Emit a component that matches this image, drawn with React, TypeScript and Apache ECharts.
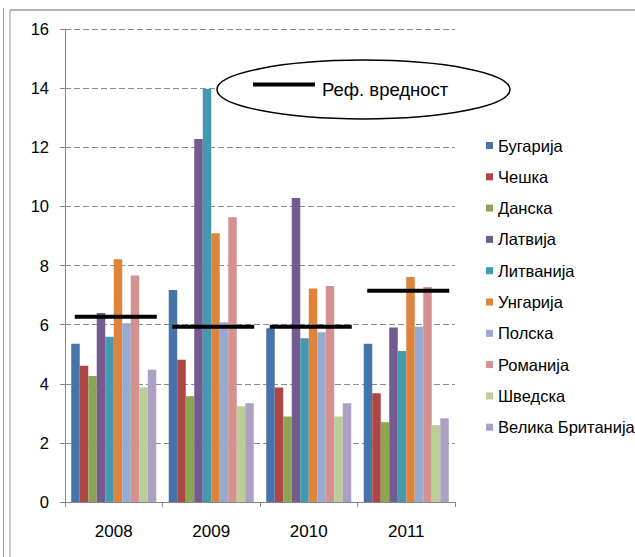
import React, { useEffect, useRef } from "react";
import * as echarts from "echarts";

const years = ["2008", "2009", "2010", "2011"];
const countries = [
  "Бугарија",
  "Чешка",
  "Данска",
  "Латвија",
  "Литванија",
  "Унгарија",
  "Полска",
  "Романија",
  "Шведска",
  "Велика Британија",
];
const colors = [
  "#4674AA",
  "#AD4745",
  "#8BA553",
  "#735A8F",
  "#4399B0",
  "#DE843D",
  "#97AAD2",
  "#D59190",
  "#BCCE98",
  "#ACA0C4",
];
// values per country, per year 2008..2011
const bugarija = [5.35, 7.17, 5.88, 5.35];
const ceska = [4.61, 4.81, 3.87, 3.68];
const danska = [4.26, 3.58, 2.89, 2.7];
const latvija = [6.39, 12.28, 10.28, 5.9];
const litvanija = [5.59, 13.97, 5.54, 5.11];
const ungarija = [8.21, 9.09, 7.22, 7.61];
const polska = [6.05, 6.08, 5.74, 5.93];
const romanija = [7.66, 9.63, 7.31, 7.27];
const svedska = [3.87, 3.24, 2.89, 2.6];
const britanija = [4.47, 3.34, 3.34, 2.83];
const seriesValues = [
  bugarija,
  ceska,
  danska,
  latvija,
  litvanija,
  ungarija,
  polska,
  romanija,
  svedska,
  britanija,
];
const refName = "Реф. вредност";
const refValues = [6.27, 5.93, 5.93, 7.15];
const yTicks = [0, 2, 4, 6, 8, 10, 12, 14, 16];

const FONT = "'Liberation Sans', Arial, sans-serif";

export default function App() {
  const ref = useRef<HTMLDivElement>(null);
  useEffect(() => {
    if (!ref.current) return;
    const chart = echarts.init(ref.current, null, { renderer: "svg" });
    const barSeries = countries.map((name, i) => ({
      name,
      type: "bar",
      data: seriesValues[i],
      barGap: "0%",
      barCategoryGap: "12.8%",
      itemStyle: { color: colors[i] },
    }));
    const refSeries = {
      name: refName,
      type: "custom",
      data: refValues.map((v, i) => [i, v]),
      z: 10,
      renderItem: (params: any, api: any) => {
        const p = api.coord([api.value(0), api.value(1)]);
        return {
          type: "line",
          shape: { x1: p[0] - 39, y1: p[1], x2: p[0] + 43, y2: p[1] },
          style: { stroke: "#000", lineWidth: 4 },
        };
      },
    };
    chart.setOption({
      animation: false,
      color: colors,
      textStyle: { fontFamily: FONT },
      grid: { left: 65, right: 180, top: 29, bottom: 55, containLabel: false },
      legend: {
        orient: "vertical",
        left: 481,
        top: 132,
        data: countries,
        icon: "rect",
        itemWidth: 7,
        itemHeight: 7,
        itemGap: 14.3,
        textStyle: { fontSize: 16.5, color: "#000", fontFamily: FONT, lineHeight: 16 },
      },
      xAxis: {
        type: "category",
        data: years,
        axisLine: { lineStyle: { color: "#868686", width: 1 } },
        axisTick: { show: true, length: 5, lineStyle: { color: "#868686" } },
        axisLabel: { color: "#000", fontSize: 17, margin: 21, fontFamily: FONT },
        splitLine: { show: false },
      },
      yAxis: {
        type: "value",
        min: yTicks[0],
        max: yTicks[yTicks.length - 1],
        interval: 2,
        axisLine: { show: true, lineStyle: { color: "#868686", width: 1 } },
        axisTick: { show: true, length: 5, lineStyle: { color: "#868686" } },
        axisLabel: { color: "#000", fontSize: 16.5, margin: 16, fontFamily: FONT },
        splitLine: {
          show: true,
          lineStyle: { color: "#8c8c8c", type: [6, 3], width: 1 },
        },
      },
      series: [...barSeries, refSeries],
      graphic: [
        {
          type: "line",
          shape: { x1: 3.5, y1: 8, x2: 3.5, y2: 557 },
          style: { stroke: "#9a9a9a", lineWidth: 1 },
        },
        {
          type: "line",
          shape: { x1: 10, y1: 10, x2: 10, y2: 557 },
          style: { stroke: "#9a9a9a", lineWidth: 1 },
        },
        {
          type: "line",
          shape: { x1: 10, y1: 10, x2: 635, y2: 10 },
          style: { stroke: "#9a9a9a", lineWidth: 1.5 },
        },
        {
          type: "ellipse",
          shape: { cx: 363.5, cy: 89.5, rx: 146.5, ry: 29.5 },
          style: { fill: "#fff", stroke: "#000", lineWidth: 1.5 },
          z: 100,
        },
        {
          type: "line",
          shape: { x1: 253, y1: 84.5, x2: 315, y2: 84.5 },
          style: { stroke: "#000", lineWidth: 4 },
          z: 101,
        },
        {
          type: "text",
          x: 322,
          y: 89,
          style: {
            text: refName,
            fill: "#000",
            fontSize: 18.5,
            fontFamily: FONT,
            verticalAlign: "middle",
            align: "left",
          },
          z: 101,
        },
      ],
    });
    return () => chart.dispose();
  }, []);
  return (
    <div
      ref={ref}
      style={{ position: "absolute", left: 0, top: 0, width: 635, height: 557, background: "#fff" }}
    />
  );
}
